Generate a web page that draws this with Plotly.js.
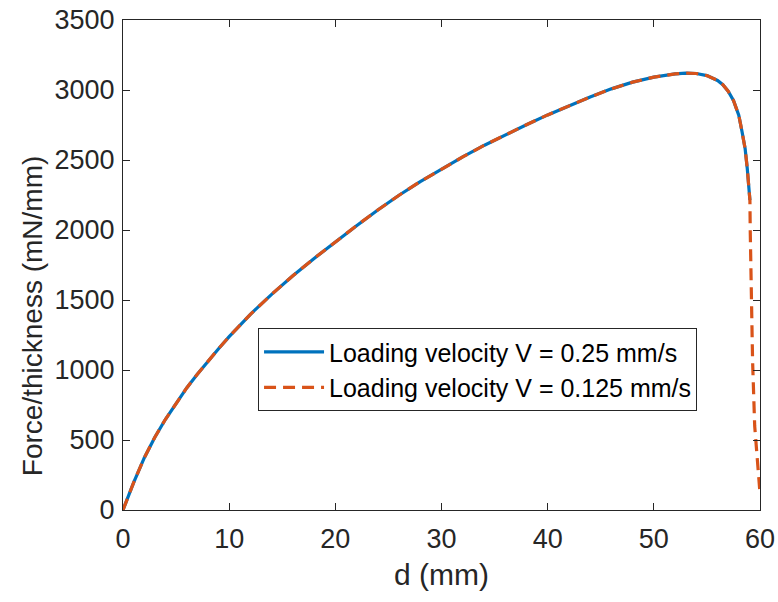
<!DOCTYPE html>
<html>
<head>
<meta charset="utf-8">
<script src="https://cdn.plot.ly/plotly-3.0.1.min.js"></script>
<style>html,body{margin:0;padding:0;background:#fff;}#chart{width:778px;height:602px;}</style>
</head>
<body>
<div id="chart"></div>
<script>
// Loading velocity V = 0.25 mm/s
var dFast = [0, 0.5, 1, 2, 3, 4, 5, 6, 7, 8, 9, 10, 12, 14, 16, 18, 20, 22, 24, 26, 28, 30, 32, 34, 36, 38, 40, 42, 44, 46, 48, 50, 51, 52, 53, 54, 55, 56, 56.5, 57, 57.5, 58, 58.3, 58.6, 58.8, 59.05];
var fFast = [0, 102, 195, 372, 520, 648, 765, 872, 970, 1063, 1152, 1238, 1398, 1540, 1673, 1797, 1915, 2031, 2143, 2248, 2346, 2437, 2522, 2604, 2680, 2752, 2822, 2888, 2950, 3008, 3056, 3092, 3105, 3115, 3120, 3118, 3103, 3068, 3038, 2992, 2925, 2820, 2705, 2580, 2440, 2214];
// Loading velocity V = 0.125 mm/s
var dSlow = [0, 0.5, 1, 2, 3, 4, 5, 6, 7, 8, 9, 10, 12, 14, 16, 18, 20, 22, 24, 26, 28, 30, 32, 34, 36, 38, 40, 42, 44, 46, 48, 50, 51, 52, 53, 54, 55, 56, 56.5, 57, 57.5, 58, 58.3, 58.6, 58.8, 59.05, 59.08, 59.15, 59.3, 59.5, 59.8, 59.97];
var fSlow = [0, 102, 195, 372, 520, 648, 765, 872, 970, 1063, 1152, 1238, 1398, 1540, 1673, 1797, 1915, 2031, 2143, 2248, 2346, 2437, 2522, 2604, 2680, 2752, 2822, 2888, 2950, 3008, 3056, 3092, 3105, 3115, 3120, 3118, 3103, 3068, 3038, 2992, 2925, 2820, 2705, 2580, 2440, 2214, 2000, 1550, 1070, 600, 262, 150];
var seriesNames = ["Loading velocity V = 0.25 mm/s", "Loading velocity V = 0.125 mm/s"];
var xTicks = [0, 10, 20, 30, 40, 50, 60];
var yTicks = [0, 500, 1000, 1500, 2000, 2500, 3000, 3500];
var xTitle = "d (mm)";
var yTitle = "Force/thickness (mN/mm)";

var axisColor = "#262626";
var fontFam = "Liberation Sans, Arial, sans-serif";

var traces = [
  {x: dFast, y: fFast, type: "scatter", mode: "lines", name: seriesNames[0],
   line: {color: "#0072BD", width: 3.2}},
  {x: dSlow, y: fSlow, type: "scatter", mode: "lines", name: seriesNames[1],
   line: {color: "#D95319", width: 3.2, dash: "12px,7px"}}
];

var axisCommon = {
  showline: true, linecolor: axisColor, linewidth: 1, mirror: "ticks",
  ticks: "inside", ticklen: 7, tickwidth: 1, tickcolor: axisColor,
  showgrid: false, zeroline: false,
  tickfont: {family: fontFam, size: 27, color: axisColor}
};

var layout = {
  width: 778, height: 602,
  paper_bgcolor: "#fff", plot_bgcolor: "#fff",
  margin: {l: 123, r: 18, t: 20, b: 92},
  showlegend: true,
  xaxis: Object.assign({}, axisCommon, {
    range: [0, 60], tickvals: xTicks, ticktext: xTicks.map(String),
    ticklabelstandoff: 5,
    title: {text: xTitle, font: {family: fontFam, size: 30, color: axisColor}, standoff: 10}
  }),
  yaxis: Object.assign({}, axisCommon, {
    range: [0, 3500], tickvals: yTicks, ticktext: yTicks.map(String),
    ticklabelstandoff: 2,
    title: {text: ""}
  }),
  annotations: [{
    text: yTitle, xref: "paper", yref: "paper", x: -0.141, y: 0.396,
    xanchor: "center", yanchor: "middle", textangle: -90, showarrow: false,
    font: {family: fontFam, size: 28, color: axisColor}
  }],
  legend: {
    x: 0.212, y: 0.371, xanchor: "left", yanchor: "top",
    bgcolor: "#fff", bordercolor: axisColor, borderwidth: 1,
    font: {family: fontFam, size: 25, color: "#000"},
    itemwidth: 60,
    tracegroupgap: 0
  }
};

Plotly.newPlot("chart", traces, layout, {displayModeBar: false, staticPlot: true});
</script>
</body>
</html>
